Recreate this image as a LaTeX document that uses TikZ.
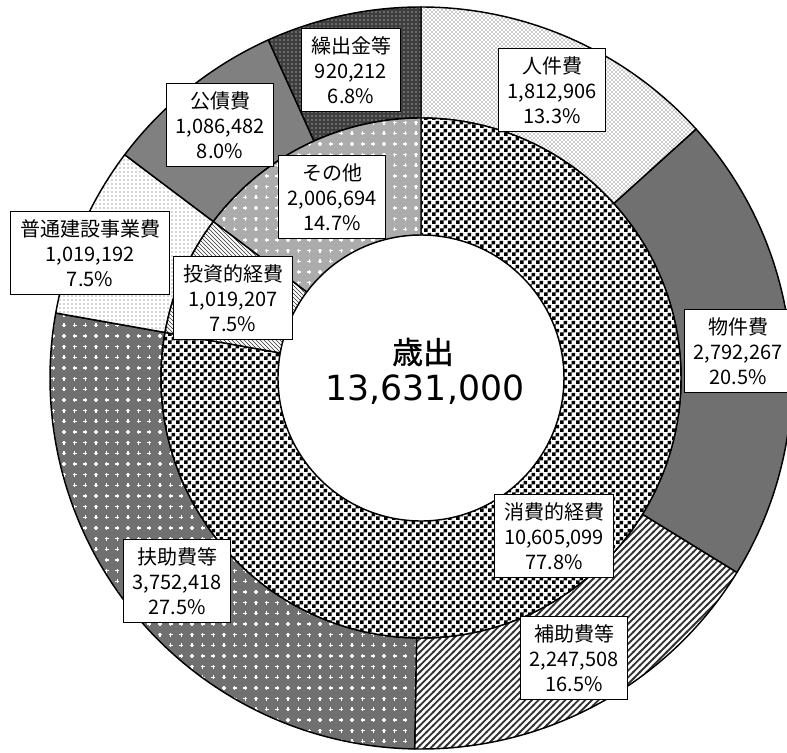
\documentclass[tikz,border=0pt]{standalone}
\usepackage{fontspec}
\setmainfont{Noto Sans CJK JP}
\newfontfamily\headfont[FakeBold=1.2]{Noto Sans CJK JP}
\newfontfamily\numfont{DejaVu Sans}
\usetikzlibrary{patterns}
\definecolor{ringline}{RGB}{0,0,0}
\definecolor{midgray}{RGB}{112,112,112}
\definecolor{darkgray}{RGB}{62,62,62}
\definecolor{lightgray}{RGB}{172,172,172}

% Custom fill patterns
\pgfdeclarepatternformonly{bigchecker}{\pgfqpoint{0pt}{0pt}}{\pgfqpoint{6pt}{6pt}}{\pgfqpoint{6pt}{6pt}}{%
  \pgfpathrectangle{\pgfqpoint{0pt}{0pt}}{\pgfqpoint{3pt}{3pt}}%
  \pgfpathrectangle{\pgfqpoint{3pt}{3pt}}{\pgfqpoint{3pt}{3pt}}%
  \pgfusepath{fill}}
\pgfdeclarepatternformonly{wideNE}{\pgfqpoint{-1pt}{-1pt}}{\pgfqpoint{6pt}{6pt}}{\pgfqpoint{5pt}{5pt}}{%
  \pgfsetlinewidth{1.4pt}\pgfsetrectcap
  \pgfpathmoveto{\pgfqpoint{0pt}{0pt}}\pgfpathlineto{\pgfqpoint{5pt}{5pt}}%
  \pgfusepath{stroke}}
\pgfdeclarepatternformonly{plusgrid}{\pgfqpoint{-2pt}{-2pt}}{\pgfqpoint{2pt}{2pt}}{\pgfqpoint{8pt}{8pt}}{%
  \pgfsetlinewidth{0.8pt}%
  \pgfpathmoveto{\pgfqpoint{-1.4pt}{0pt}}\pgfpathlineto{\pgfqpoint{1.4pt}{0pt}}%
  \pgfpathmoveto{\pgfqpoint{0pt}{-1.4pt}}\pgfpathlineto{\pgfqpoint{0pt}{1.4pt}}%
  \pgfusepath{stroke}}

\tikzset{
    % Ring segment outline
    wedgeline/.style={postaction={draw=ringline, line width=1.1pt, line join=round}},
    % Outer ring segments
    jinken/.style={fill=white, postaction={pattern=crosshatch dots, pattern color=black!85}, wedgeline},
    bukken/.style={fill=midgray, wedgeline},
    hojo/.style={fill=white, postaction={pattern=wideNE, pattern color=black!80}, wedgeline},
    fujo/.style={fill=midgray, postaction={pattern=plusgrid, pattern color=white}, wedgeline},
    futsu/.style={fill=white, postaction={pattern=dots, pattern color=black!70}, wedgeline},
    kosai/.style={fill=black!50, wedgeline},
    kuridashi/.style={fill=darkgray, postaction={pattern=dots, pattern color=white}, wedgeline},
    % Inner ring segments
    shohi/.style={fill=white, postaction={pattern=bigchecker, pattern color=black}, wedgeline},
    toshi/.style={fill=white, postaction={pattern=north west lines, pattern color=black!80}, wedgeline},
    sonota/.style={fill=lightgray, postaction={pattern=plusgrid, pattern color=white}, wedgeline},
    % Value label box
    valbox/.style={
        rectangle, draw=black, line width=1pt, fill=white,
        align=center, inner xsep=7pt, inner ysep=6pt,
        font=\fontsize{15}{18.75}\selectfont
    }
}

% ring piece: style, inner radius, outer radius, start angle, end angle
\newcommand{\ringpart}[5]{%
  \path[#1] (#4:#3) arc[start angle=#4, end angle=#5, radius=#3]
    -- (#5:#2) arc[start angle=#5, end angle=#4, radius=#2] -- cycle;}

\begin{document}
\begin{tikzpicture}[x=0.75pt, y=0.75pt]

\fill[white] (0,0) rectangle (787,752);
\useasboundingbox (0,0) rectangle (787,752);

\begin{scope}[shift={(421,374)}]
% Outer ring
\ringpart{jinken}{260}{371}{90}{42.12}
\ringpart{bukken}{260}{371}{42.12}{-31.62}
\ringpart{hojo}{260}{371}{-31.62}{-90.98}
\ringpart{fujo}{260}{371}{-90.98}{-190.09}
\ringpart{futsu}{260}{371}{-190.09}{-217.00}
\ringpart{kosai}{260}{371}{-217.00}{-245.70}
\ringpart{kuridashi}{260}{371}{-245.70}{-270}

% Inner ring
\ringpart{shohi}{143}{260}{90}{-190.09}
\ringpart{toshi}{143}{260}{-190.09}{-217.00}
\ringpart{sonota}{143}{260}{-217.00}{-270}
\end{scope}

% Centre total
\node (title) at (423,400) {\headfont\fontsize{23}{28}\selectfont 歳出};
\node (total) at (425,362) {\numfont\fontsize{26}{30}\selectfont 13,631,000};

% Outer ring labels
\node[valbox] (jinkenhi) at (552,662) {人件費\\1,812,906\\13.3\%};
\node[valbox] (bukkenhi) at (738,401) {物件費\\2,792,267\\20.5\%};
\node[valbox] (hojohi) at (574,94) {補助費等\\2,247,508\\16.5\%};
\node[valbox] (fujohi) at (177,171) {扶助費等\\3,752,418\\27.5\%};
\node[valbox] (futsuken) at (90,499) {普通建設事業費\\1,019,192\\7.5\%};
\node[valbox] (kosaihi) at (220,627) {公債費\\1,086,482\\8.0\%};
\node[valbox] (kuridashi) at (351,682) {繰出金等\\920,212\\6.8\%};

% Inner ring labels
\node[valbox] (shohiteki) at (554,216) {消費的経費\\10,605,099\\77.8\%};
\node[valbox] (toshiteki) at (233,454) {投資的経費\\1,019,207\\7.5\%};
\node[valbox] (sonota) at (332,555) {その他\\2,006,694\\14.7\%};

\end{tikzpicture}
\end{document}
